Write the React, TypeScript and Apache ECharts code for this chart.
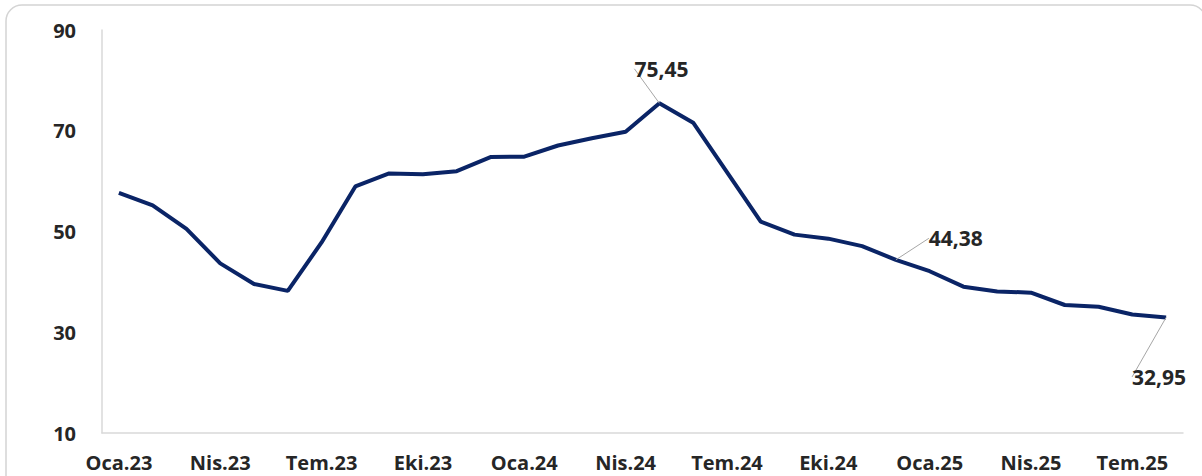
import React, { useEffect, useRef } from "react";
import * as echarts from "echarts";

const categories = [
  "Oca.23", "Şub.23", "Mar.23", "Nis.23", "May.23", "Haz.23", "Tem.23", "Ağu.23", "Eyl.23", "Eki.23", "Kas.23", "Ara.23",
  "Oca.24", "Şub.24", "Mar.24", "Nis.24", "May.24", "Haz.24", "Tem.24", "Ağu.24", "Eyl.24", "Eki.24", "Kas.24", "Ara.24",
  "Oca.25", "Şub.25", "Mar.25", "Nis.25", "May.25", "Haz.25", "Tem.25", "Ağu.25",
];

const inflation = [
  57.68, 55.18, 50.51, 43.68, 39.59, 38.21, 47.83, 58.94, 61.53, 61.36, 61.98, 64.77,
  64.86, 67.07, 68.5, 69.8, 75.45, 71.6, 61.78, 51.97, 49.38, 48.58, 47.09, 44.38,
  42.12, 39.05, 38.1, 37.86, 35.41, 35.05, 33.52, 32.95,
];

const labelledIndices = [16, 23, 31];

const FONT = "'Open Sans', 'Noto Sans', sans-serif";

export default function App() {
  const ref = useRef<HTMLDivElement>(null);

  useEffect(() => {
    if (!ref.current) return;
    const chart = echarts.init(ref.current, null, { renderer: "svg" });
    const fmt = (v: number) => v.toFixed(2).replace(".", ",");

    const data = inflation.map((v, i) =>
      labelledIndices.includes(i)
        ? { value: v, label: { show: true }, labelLine: { show: true } }
        : v
    );

    chart.setOption({
      animation: false,
      backgroundColor: "#ffffff",
      graphic: [
        {
          type: "rect",
          shape: { x: 6, y: 5, width: 1200, height: 520, r: 16 },
          style: { fill: "none", stroke: "#d4d4d4", lineWidth: 1.5 },
          silent: true,
          z: -10,
        },
      ],
      grid: { left: 102, right: 19, top: 30, bottom: 43, containLabel: false },
      xAxis: {
        type: "category",
        data: categories,
        boundaryGap: true,
        axisLine: { show: true, lineStyle: { color: "#d9d9d9", width: 1.5 } },
        axisTick: { show: false },
        axisLabel: {
          interval: 2,
          margin: 19,
          color: "#262626",
          fontFamily: FONT,
          fontWeight: "bold",
          fontSize: 20,
        },
        splitLine: { show: false },
      },
      yAxis: {
        type: "value",
        min: 10,
        max: 90,
        interval: 20,
        axisLine: { show: true, lineStyle: { color: "#d9d9d9", width: 1.5 } },
        axisTick: { show: false },
        splitLine: { show: false },
        axisLabel: {
          margin: 26,
          color: "#262626",
          fontFamily: FONT,
          fontWeight: "bold",
          fontSize: 20,
        },
      },
      series: [
        {
          type: "line",
          data,
          showSymbol: true,
          symbol: "circle",
          symbolSize: 0,
          lineStyle: { color: "#0a2466", width: 4 },
          itemStyle: { color: "#0a2466" },
          label: {
            show: false,
            position: "top",
            color: "#262626",
            fontFamily: FONT,
            fontWeight: "bold",
            fontSize: 21,
            formatter: (p: any) => fmt(p.value),
          },
          labelLine: {
            show: false,
            lineStyle: { color: "#a6a6a6", width: 1 },
          },
          labelLayout: (p: any) => {
            if (p.dataIndex === 16) return { dx: 2, dy: -19 };
            if (p.dataIndex === 23) return { dx: 60, dy: -6 };
            if (p.dataIndex === 31) return { dx: -7, dy: 75 };
            return {};
          },
        },
      ],
    });

    return () => chart.dispose();
  }, []);

  return (
    <div
      ref={ref}
      style={{ position: "fixed", left: 0, top: 0, width: 1202, height: 476 }}
    />
  );
}
